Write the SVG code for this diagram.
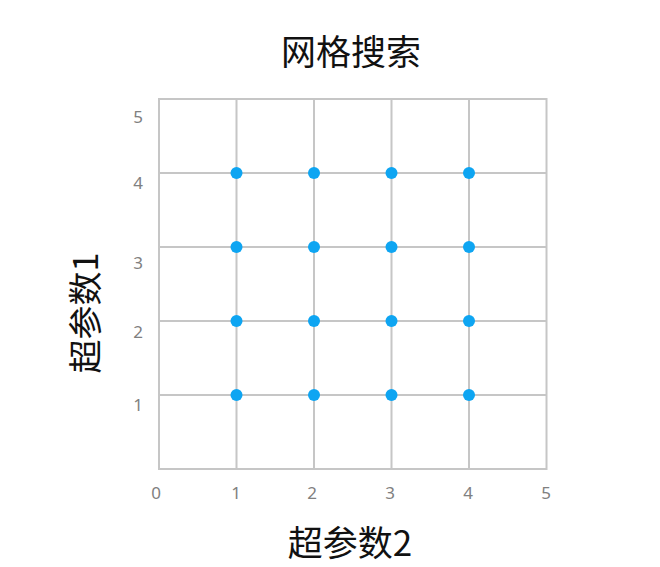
<svg xmlns="http://www.w3.org/2000/svg" width="660" height="567" viewBox="0 0 660 567">
<style>
.g{stroke:#c6c6c6;stroke-width:2;fill:none}
.d{fill:#0ea5f2}
.t{font-family:"Noto Sans","Noto Sans CJK SC",sans-serif;font-size:17px;fill:#808080;text-anchor:middle}
.h{font-family:"Noto Sans CJK SC",sans-serif;fill:#111;text-anchor:middle}
</style>
<rect width="660" height="567" fill="#fff"/>
<text class="h" x="351" y="65" font-size="35">网格搜索</text>
<g id="grid">
<rect class="g" x="159" y="99" width="387.5" height="370"/>
<path class="g" d="M236.5 99V469M314 99V469M391.5 99V469M469 99V469M159 173H546.5M159 247H546.5M159 321H546.5M159 395H546.5"/>
</g>
<g id="ticks">
<text class="t" x="138" y="123">5</text>
<text class="t" x="138" y="189">4</text>
<text class="t" x="138" y="269">3</text>
<text class="t" x="138" y="338">2</text>
<text class="t" x="138" y="411">1</text>
<text class="t" x="156" y="499">0</text>
<text class="t" x="236" y="499">1</text>
<text class="t" x="312" y="499">2</text>
<text class="t" x="390" y="499">3</text>
<text class="t" x="468" y="499">4</text>
<text class="t" x="546" y="499">5</text>
</g>
<g id="points">
<circle class="d" cx="236.5" cy="173" r="6"/><circle class="d" cx="314" cy="173" r="6"/><circle class="d" cx="391.5" cy="173" r="6"/><circle class="d" cx="469" cy="173" r="6"/>
<circle class="d" cx="236.5" cy="247" r="6"/><circle class="d" cx="314" cy="247" r="6"/><circle class="d" cx="391.5" cy="247" r="6"/><circle class="d" cx="469" cy="247" r="6"/>
<circle class="d" cx="236.5" cy="321" r="6"/><circle class="d" cx="314" cy="321" r="6"/><circle class="d" cx="391.5" cy="321" r="6"/><circle class="d" cx="469" cy="321" r="6"/>
<circle class="d" cx="236.5" cy="395" r="6"/><circle class="d" cx="314" cy="395" r="6"/><circle class="d" cx="391.5" cy="395" r="6"/><circle class="d" cx="469" cy="395" r="6"/>
</g>
<text class="h" x="350" y="556" font-size="35">超参数2</text>
<text class="h" font-size="34" transform="translate(98 313) rotate(-90)">超参数1</text>
</svg>
